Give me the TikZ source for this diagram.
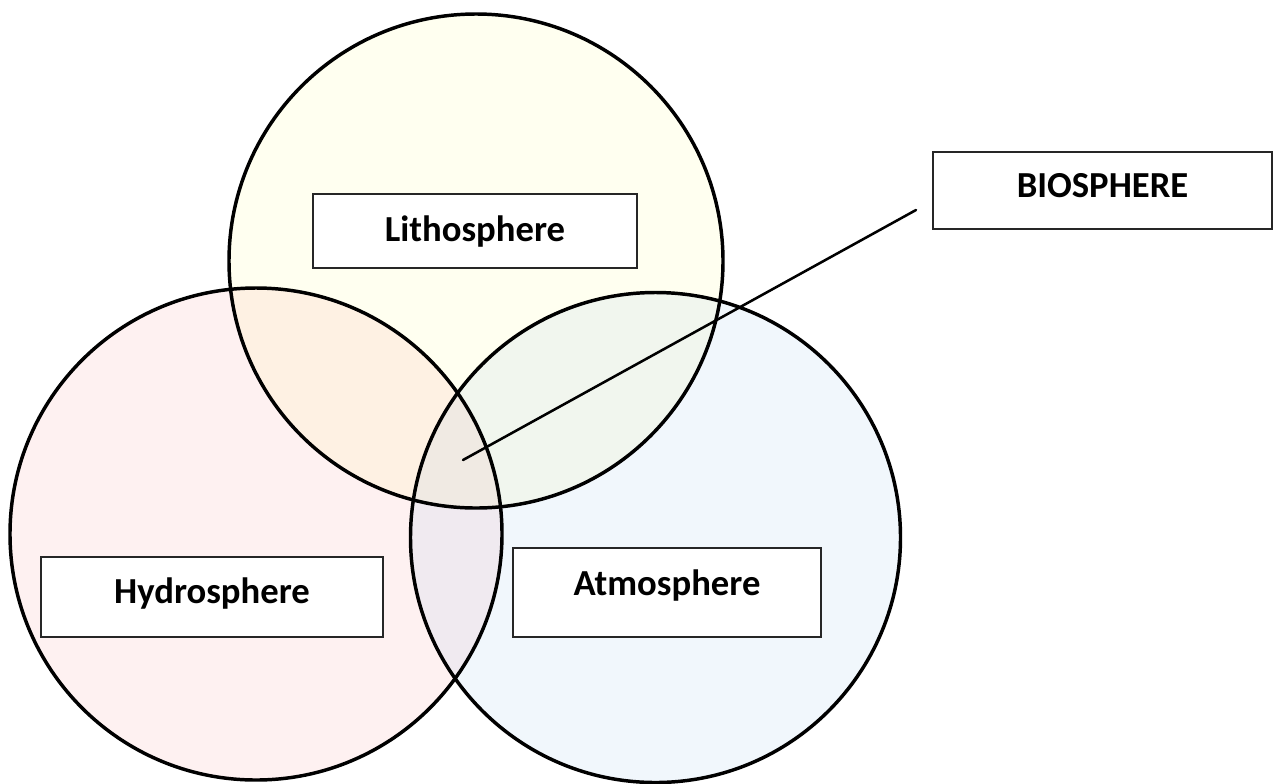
\documentclass[tikz,border=0pt]{standalone}
\usepackage{fontspec}
\setmainfont{Carlito}
\usetikzlibrary{calc}
\definecolor{litC}{RGB}{255,250,60}
\definecolor{hydC}{RGB}{240,80,80}
\definecolor{atmC}{RGB}{80,150,220}
\definecolor{edge}{RGB}{0,0,0}
\tikzset{
  sphere/.style={draw=edge, line width=2.6pt},
  spherefill/.style={fill=#1, fill opacity=0.08},
  labelbox/.style={draw=black!85, line width=1.5pt, fill=white, rectangle,
    font=\fontsize{27.5}{33}\selectfont\bfseries, text height=20pt, text depth=5pt, inner sep=0pt},
  connector/.style={draw=black, line width=1.9pt, line cap=round}
}
\begin{document}
\begin{tikzpicture}[x=0.75pt, y=-0.75pt]
\useasboundingbox (0,0) rectangle (1278,783);
% fills
\fill[spherefill=litC] (476,261) circle (247);
\fill[spherefill=hydC] (256,534) circle (246);
\fill[spherefill=atmC] (655.5,537.5) circle (245);
% outlines
\draw[sphere] (476,261) circle (247);
\draw[sphere] (256,534) circle (246);
\draw[sphere] (655.5,537.5) circle (245);
% boxes
\node[labelbox, minimum width=243pt, minimum height=55.5pt] (lith) at (475,231) {Lithosphere};
\node[labelbox, minimum width=254.25pt, minimum height=57.75pt, text height=18pt, text depth=8.2pt] (bio) at (1102.5,190.5) {BIOSPHERE};
\node[labelbox, minimum width=256.5pt, minimum height=60pt, text height=18pt, text depth=9pt] (hyd) at (212,597) {Hydrosphere};
\node[labelbox, minimum width=231pt, minimum height=66.75pt, text height=16pt, text depth=12.2pt] (atm) at (667,592.5) {Atmosphere};
% connector
\coordinate (center3) at (463,460);
\coordinate (bioend) at ($(bio.south west)+(-16,-20)$);
\draw[connector] (center3) -- (bioend);
\end{tikzpicture}
\end{document}
